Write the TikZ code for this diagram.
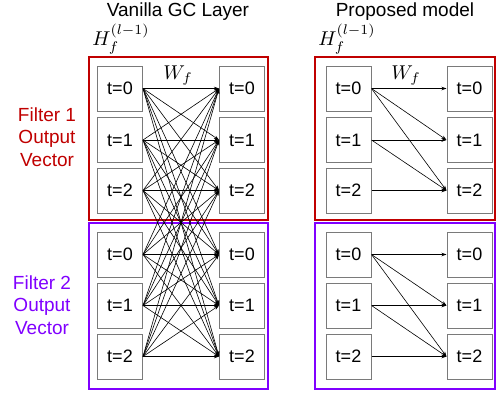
\documentclass[tikz,border=0pt]{standalone}
\usepackage{graphicx}
\usepackage{fontspec}
\setmainfont{Liberation Sans}
\usetikzlibrary{arrows.meta}
\definecolor{filterred}{HTML}{C00000}
\definecolor{filterpurple}{HTML}{8000FF}
\definecolor{cellgray}{HTML}{7A7A7A}
\newcommand{\bigmath}[1]{\scalebox{2.0}{$#1$}}
\tikzset{
  cell/.style={draw=cellgray, line width=1pt, minimum width=45pt, minimum height=45pt,
    inner sep=0pt, font=\fontsize{18}{21}\selectfont},
  link/.style={line width=0.6pt, -{Stealth[length=5pt,width=3.5pt]}},
  redbox/.style={draw=filterred, line width=2pt},
  purplebox/.style={draw=filterpurple, line width=2pt},
  title/.style={font=\fontsize{19}{22}\selectfont},
  sidelabel/.style={align=center, font=\fontsize{19}{22.5}\selectfont},
  mathlabel/.style={inner sep=0pt}
}
\begin{document}
\begin{tikzpicture}[x=1pt,y=-1pt]
\useasboundingbox (0,0) rectangle (498,394);

% group frames
\draw[redbox] (88.5,57) rectangle (268,219.5);
\draw[purplebox] (88.5,222.5) rectangle (268,389);
\draw[redbox] (315,57) rectangle (495,219.5);
\draw[purplebox] (315,222.5) rectangle (495,389);

% titles
\node[title] (t1) at (178,12) {Vanilla GC Layer};
\node[title] (t2) at (405,12) {Proposed model};
\node[mathlabel] (h1) at (121,39) {\bigmath{H_f^{(l-1)}}};
\node[mathlabel] (h2) at (347,39) {\bigmath{H_f^{(l-1)}}};
\node[mathlabel] (w1) at (178,76) {\bigmath{W_f}};
\node[mathlabel] (w2) at (406,76) {\bigmath{W_f}};

\node[sidelabel, text=filterred] (f1) at (47,137) {Filter 1\\Output\\Vector};
\node[sidelabel, text=filterpurple] (f2) at (42,305) {Filter 2\\Output\\Vector};

% cells: rows of both filters
\foreach \y [count=\i from 0] in {88.5,140,190.5,254.5,305.5,356.5} {
  \pgfmathtruncatemacro{\t}{mod(\i,3)}
  \node[cell] (aL\i) at (120,\y) {t=\t};
  \node[cell] (aR\i) at (242,\y) {t=\t};
  \node[cell] (bL\i) at (348.5,\y) {t=\t};
  \node[cell] (bR\i) at (469.5,\y) {t=\t};
}

% dense layer: every input step feeds every output step
\foreach \i in {0,...,5} {
  \foreach \j in {0,...,5} {
    \draw[link] (aL\i.east) -- (aR\j.west);
  }
}

% causal layer: step i feeds steps j >= i within the same filter
\foreach \g in {0,3} {
  \foreach \i in {0,1,2} {
    \foreach \j in {\i,...,2} {
      \pgfmathtruncatemacro{\a}{\g+\i}
      \pgfmathtruncatemacro{\b}{\g+\j}
      \draw[link] (bL\a.east) -- (bR\b.west);
    }
  }
}
\end{tikzpicture}
\end{document}
